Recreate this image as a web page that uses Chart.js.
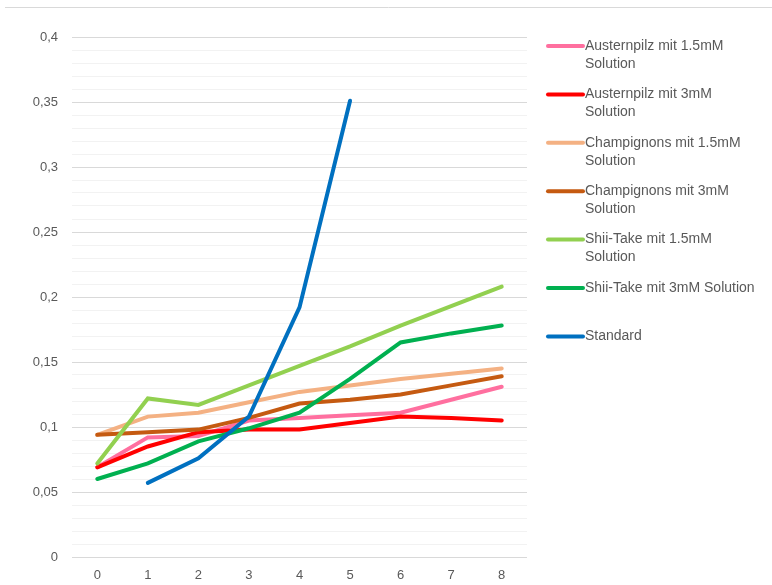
<!DOCTYPE html>
<html>
<head>
<meta charset="utf-8">
<script src="https://cdn.jsdelivr.net/npm/chart.js@4/dist/chart.umd.min.js"></script>
<style>
  html,body{margin:0;padding:0;background:#fff;}
  #wrap{width:772px;height:585px;position:relative;}
</style>
</head>
<body>
<div id="wrap"><canvas id="idGrafica" width="772" height="585"></canvas></div>
<script>
// Zeitpunkte (x-Achse)
var etiquetas=['0','1','2','3','4','5','6','7','8'];
// Messwerte pro Reihe
var austern15=[0.069,0.092,0.093,0.105,0.107,0.109,0.111,0.121,0.131];
var austern3=[0.069,0.085,0.096,0.098,0.098,0.103,0.108,0.107,0.105];
var champ15=[0.094,0.108,0.111,0.119,0.127,0.132,0.137,0.141,0.145];
var champ3=[0.094,0.096,0.098,0.107,0.118,0.121,0.125,0.132,0.139];
var shii15=[0.072,0.122,0.117,0.132,0.147,0.162,0.178,0.193,0.208];
var shii3=[0.060,0.072,0.089,0.099,0.111,0.137,0.165,0.172,0.178];
var standard=[null,0.057,0.076,0.108,0.192,0.351,null,null,null];
var nombres=['Austernpilz mit 1.5mM Solution','Austernpilz mit 3mM Solution','Champignons mit 1.5mM Solution',
  'Champignons mit 3mM Solution','Shii-Take mit 1.5mM Solution','Shii-Take mit 3mM Solution','Standard'];
var colores=['#ff6f9f','#ff0000','#f4b183','#c55a11','#92d050','#00b050','#0070c0'];
var series=[austern15,austern3,champ15,champ3,shii15,shii3,standard];

var fuente='"Liberation Sans", Arial, sans-serif';

var leyenda={
  id:'leyenda',
  afterDraw:function(chart){
    var ctx=chart.ctx;
    ctx.save();
    // linea superior
    ctx.strokeStyle='#d9d9d9';
    ctx.lineWidth=1;
    ctx.beginPath();ctx.moveTo(5,7.5);ctx.lineTo(772,7.5);ctx.stroke();
    ctx.font='14px '+fuente;
    ctx.textBaseline='middle';
    chart.data.datasets.forEach(function(ds,i){
      var y=46+i*48.4;
      ctx.strokeStyle=ds.borderColor;
      ctx.lineWidth=4;
      ctx.lineCap='round';
      ctx.beginPath();ctx.moveTo(548,y);ctx.lineTo(583,y);ctx.stroke();
      ctx.fillStyle='#595959';
      // texto en varias lineas
      var palabras=ds.label.split(' ');
      var linea='';var lineas=[];
      palabras.forEach(function(p){
        var prueba=linea?linea+' '+p:p;
        if(ctx.measureText(prueba).width>176&&linea){lineas.push(linea);linea=p;}
        else linea=prueba;
      });
      lineas.push(linea);
      lineas.forEach(function(t,k){ctx.fillText(t,585,y+k*18);});
    });
    ctx.restore();
  }
};

var datasets=series.map(function(s,i){
  return {label:nombres[i],data:s,borderColor:colores[i],backgroundColor:colores[i],
    borderWidth:4,pointRadius:0,tension:0,order:7-i,spanGaps:false,borderCapStyle:'round'};
});

var ctx=document.getElementById('idGrafica').getContext('2d');
var mychart=new Chart(ctx,{
  type:'line',
  data:{labels:etiquetas,datasets:datasets},
  options:{
    responsive:false,
    animation:false,
    layout:{padding:{top:37,right:245,bottom:0,left:0}},
    plugins:{legend:{display:false},tooltip:{enabled:false}},
    scales:{
      x:{
        offset:true,
        grid:{display:false},
        border:{display:false},
        ticks:{color:'#595959',font:{size:13,family:fuente},padding:3,maxRotation:0},
        afterFit:function(s){s.height=28;}
      },
      y:{
        min:0,max:0.4,
        border:{display:false},
        grid:{drawTicks:false,
          color:function(c){
            var v=Math.round(c.tick.value*100);
            return v%5===0?'#d9d9d9':'#f2f2f2';
          }},
        ticks:{stepSize:0.01,autoSkip:false,color:'#595959',font:{size:13,family:fuente},padding:14,
          callback:function(v){
            var n=Math.round(v*100);
            if(n%5!==0)return '';
            return String(n/100).replace('.',',');
          }},
        afterFit:function(s){s.width=72;}
      }
    }
  },
  plugins:[leyenda]
});
</script>
</body>
</html>
